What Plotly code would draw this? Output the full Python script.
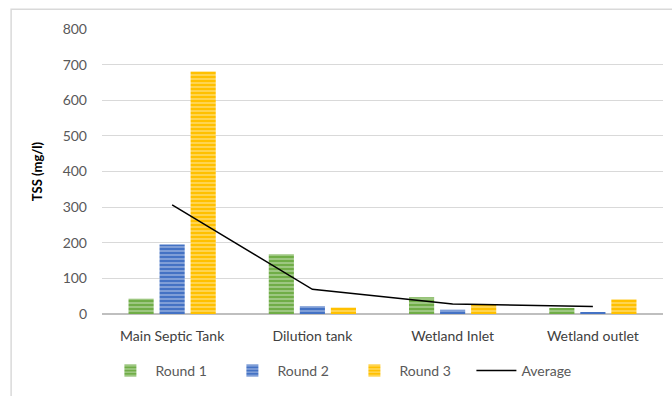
import plotly.graph_objects as go

categories = ["Main Septic Tank", "Dilution tank", "Wetland Inlet", "Wetland outlet"]
round1 = [43, 168, 47, 17]
round2 = [195, 22, 12, 5]
round3 = [681, 18, 26, 41]
average = [306.3, 69.3, 28.3, 21.0]
y_ticks = [0, 100, 200, 300, 400, 500, 600, 700, 800]

FONT = "Lato, Open Sans, sans-serif"

def bar(name, vals, color):
    return go.Bar(
        name=name, x=categories, y=vals,
        marker=dict(
            color=color,
            line=dict(width=0),
            pattern=dict(shape="-", fgcolor="white", fgopacity=0.45, size=4, solidity=0.35),
        ),
    )

fig = go.Figure()
fig.add_trace(bar("Round 1", round1, "#70AD47"))
fig.add_trace(bar("Round 2", round2, "#4472C4"))
fig.add_trace(bar("Round 3", round3, "#FFC000"))
fig.add_trace(go.Scatter(name="Average", x=categories, y=average, mode="lines",
                         line=dict(color="black", width=1.5)))

fig.update_layout(
    width=672, height=396,
    margin=dict(l=102, r=9, t=29, b=77),
    paper_bgcolor="white", plot_bgcolor="white",
    barmode="group", bargap=0.336, bargroupgap=0.19,
    font=dict(family=FONT, size=14, color="#595959"),
    showlegend=True,
    legend=dict(orientation="h", x=0.441, y=-0.2, xanchor="center", yanchor="middle",
                font=dict(size=14, color="#595959"), itemwidth=40, tracegroupgap=0,
                entrywidth=67, entrywidthmode="pixels"),
    xaxis=dict(showgrid=False, showline=False, ticks="", ticklabelstandoff=12,
               tickfont=dict(size=14, color="#404040")),
    yaxis=dict(range=[0, 800], tickvals=y_ticks, showgrid=True, gridcolor="#D9D9D9", gridwidth=1,
               zeroline=True, zerolinecolor="#BFBFBF", zerolinewidth=2,
               ticks="", ticklen=0, ticklabelstandoff=14, tickfont=dict(size=14, color="#595959"),
               title=dict(text="<b>TSS (mg/l)</b>", font=dict(size=13, color="#000000"), standoff=17)),
    shapes=[dict(type="rect", xref="paper", yref="paper", x0=-0.162, x1=1.03, y0=-0.3, y1=1.069,
                 line=dict(color="#D9D9D9", width=1.5), fillcolor="rgba(0,0,0,0)", layer="below")],
)

fig.write_html("out.html")
